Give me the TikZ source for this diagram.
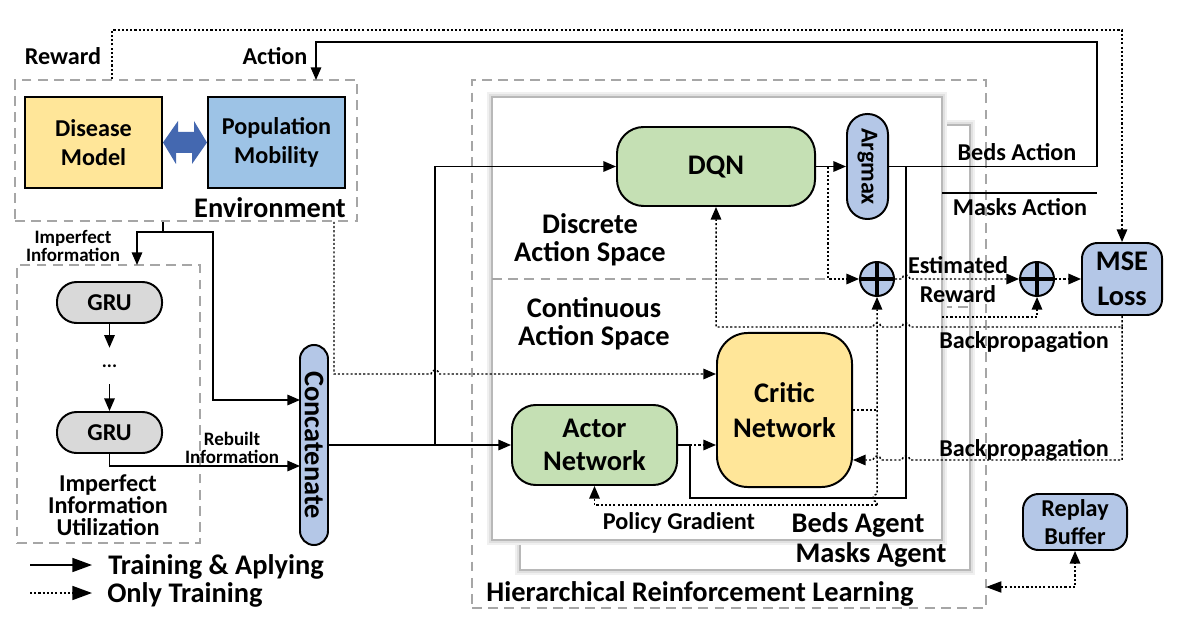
\documentclass[tikz,border=0pt]{standalone}
\usepackage{fontspec}
\setmainfont{Carlito}
\usepackage{tikz}
\usetikzlibrary{arrows.meta,fit}
\definecolor{envyel}{HTML}{FFE699}
\definecolor{envblu}{HTML}{9DC3E6}
\definecolor{netgrn}{HTML}{C5E0B4}
\definecolor{oplav}{HTML}{B4C7E7}
\definecolor{grugry}{HTML}{D9D9D9}
\definecolor{dblarr}{HTML}{4468B0}
\definecolor{frmgry}{HTML}{A6A6A6}
\newcommand{\hfont}[2]{\fontsize{#1}{#2}\selectfont\bfseries}
\tikzset{
  box/.style={draw, line width=1.4pt, align=center, inner sep=0pt, font={\hfont{17.2}{21}}},
  pill/.style={box, rounded corners=#1},
  grp/.style={draw=frmgry, line width=1.1pt, dash pattern=on 7pt off 4.5pt, inner sep=0pt},
  panel/.style={draw=black!28, line width=1.1pt, fill=white, inner sep=0pt,
    preaction={draw=black!6, line width=7pt}, preaction={draw=black!12, line width=4pt}},
  lbl/.style={align=center, inner sep=0pt, font={\hfont{17.2}{21}}},
  big/.style={font={\hfont{20.2}{#1}}}, big/.default=24,
  sml/.style={font={\hfont{13.5}{13}}},
  ln/.style={line width=1.05pt},
  fl/.style={ln, -{Triangle[length=9pt,width=7.5pt]}},
  dt/.style={dash pattern=on 1.5pt off 1.5pt},
  plus/.style={circle, draw, line width=1.4pt, fill=oplav, minimum size=0.85cm, inner sep=0pt,
    path picture={\draw[line width=2.2pt] (path picture bounding box.north) -- (path picture bounding box.south)
      (path picture bounding box.west) -- (path picture bounding box.east);}},
}

\begin{document}
\begin{tikzpicture}[x=0.025cm, y=-0.025cm]
  \useasboundingbox (0,0) rectangle (1187,629);
  % ---- frames ----
  \node[grp, fit={(472,80) (986,608)}] (hrl) {};
  \node[panel, fit={(520,125) (970,570)}] (mpan) {};
  \draw[grp] (942,307) -- (970,307);
  \node[panel, fit={(492,97) (942,540)}] (bpan) {};
  \draw[grp] (492,279) -- (828,279);
  \node[grp, fit={(15,80) (357,221)}] (env) {};
  \node[grp, fit={(17,265) (200,543)}] (iiu) {};

  % ---- environment ----
  \node[box, fill=envyel, minimum width=3.425cm, minimum height=2.275cm] (dis) at (93.5,142.5) {Disease\\Model};
  \node[box, fill=envblu, minimum width=3.425cm, minimum height=2.275cm] (pop) at (276.5,142.5) {Population\\Mobility};
  \fill[dblarr] (dis.east) -- ++(15,-21.5) -- ++(0,11) -- ++(16,0) -- ++(0,-11) -- (pop.west)
     -- ++(-15,21.5) -- ++(0,-11) -- ++(-16,0) -- ++(0,11) -- cycle;
  \node[lbl] (rwl) at (63,56) {Reward};
  \node[lbl] (acl) at (275,56) {Action};
  \node[lbl, big] (envl) at (270,208) {Environment};

  % ---- imperfect information utilization ----
  \node[lbl, sml] (iil) at (73,246) {Imperfect\\Information};
  \node[pill=14pt, fill=grugry, minimum width=2.625cm, minimum height=1.025cm] (g1) at (109.5,302.5) {GRU};
  \node[lbl, sml, minimum height=0.9cm] (dots) at (109.5,366) {...};
  \node[pill=14pt, fill=grugry, minimum width=2.625cm, minimum height=1.025cm] (g2) at (109.5,432.5) {GRU};
  \node[lbl, font={\hfont{17.2}{15.5}}] (iiul) at (108,505) {Imperfect\\Information\\Utilization};
  \node[lbl, sml] (rbl) at (232,448) {Rebuilt\\Information};
  \node[box, big, fill=oplav, rounded corners=10pt, rotate=-90, minimum width=5cm, minimum height=0.7cm] (cat) at (314,445) {Concatenate};
  \coordinate (ii) at (163,232);
  \coordinate (iin) at (137,265);
  \coordinate (ci1) at (300,400);
  \coordinate (ci2) at (300,466);
  \draw[ln] (env.south -| ii) -- (ii);
  \draw[fl] (ii) -| (iin);
  \draw[fl] (ii) -- (213,232) |- (ci1);
  \draw[fl] (g1) -- (dots);
  \draw[fl] (dots) -- (g2);
  \draw[fl] (g2.south) |- (ci2);

  % ---- beds agent ----
  \node[pill=19pt, big, fill=netgrn, minimum width=4.95cm, minimum height=1.975cm] (dqn) at (716,166.5) {DQN};
  \node[box, font={\hfont{17.2}{17}}, fill=oplav, rounded corners=14.5pt, rotate=-90, minimum width=2.625cm, minimum height=1.025cm] (arg) at (867.5,166.5) {Argmax};
  \node[lbl, big=20] (dasl) at (590,240) {Discrete\\Action Space};
  \node[lbl, big=20] (casl) at (594,324) {Continuous\\Action Space};
  \node[pill=17pt, big=24, fill=netgrn, minimum width=4.125cm, minimum height=2cm] (act) at (594.5,445) {Actor\\Network};
  \node[pill=22pt, big=25, fill=envyel, minimum width=3.375cm, minimum height=3.85cm] (crt) at (784.5,410) {Critic\\Network};
  \node[plus] (p1) at (877,279) {};
  \node[plus] (p2) at (1037,279) {};
  \node[pill=11pt, big=25, fill=oplav, minimum width=2cm, minimum height=1.8cm] (mse) at (1122,279) {MSE\\Loss};
  \node[pill=11pt, font={\hfont{17.2}{20}}, fill=oplav, minimum width=2.6cm, minimum height=1.4cm] (rep) at (1075,522) {Replay\\Buffer};

  \coordinate (ed) at (334,374);
  \draw[fl, dt] (env.south -| ed) -- (ed) -- (431,374) arc(180:360:4) -- (crt.west |- ed);
  \coordinate (sp) at (435,445);
  \draw[fl] (cat) -- (act);
  \draw[fl] (sp) |- (dqn);
  \draw[fl] (dqn) -- (arg);
  \coordinate (dq) at (828,166.5);
  \draw[fl, dt] (dq) |- (p1);
  \coordinate (ao) at (690,445);
  \coordinate (bj) at (906,166.5);
  \draw[ln] (act) -- (ao) |- (906,498) -- (bj);
  \draw[fl, dt] (ao) -- (crt.west |- ao);
  \draw[ln, dt] (crt.east) -- (crt.east -| p1);
  \coordinate (pg) at (877,505);
  \draw[fl, dt] (pg) -- (877,502) arc(90:270:4) -- (p1);
  \draw[fl, dt] (pg) -| (act.south);

  % ---- actions and rewards ----
  \coordinate (ac) at (1097,42);
  \coordinate (an) at (316,80);
  \draw[fl] (arg) -| (ac) -| (an);
  \coordinate (ma) at (942,193);
  \draw[ln] (ma) -- (ac |- ma);
  \node[lbl] (bal) at (1017,152) {Beds Action};
  \node[lbl] (mal) at (1020,207) {Masks Action};
  \node[lbl, font={\hfont{17.2}{20.6}}] (erl) at (958,280) {Estimated\\Reward};
  \draw[fl, dt] (p1) -- (902,279) arc(180:360:4) -- (p2);
  \draw[fl, dt] (p2) -- (mse);
  \coordinate (me) at (942,317);
  \draw[fl, dt] (me) -| (p2);
  \coordinate (rw) at (112,30);
  \draw[fl, dt] (env.north -| rw) -- (rw) -| (mse);
  \coordinate (bp1) at (1122,327);
  \coordinate (bp2) at (1122,460);
  \draw[fl, dt] (mse) -- (bp1) -- (910,327) arc(0:-180:4) -- (881,327) arc(0:-180:4) -- (dqn |- bp1) -- (dqn);
  \draw[fl, dt] (bp1) -- (bp2) -- (910,460) arc(0:-180:4) -- (881,460) arc(0:-180:4) -- (crt.east |- bp2);
  \node[lbl] (bpl1) at (1024,342) {Backpropagation};
  \node[lbl] (bpl2) at (1024,450) {Backpropagation};
  \node[lbl] (pgl) at (679,523) {Policy Gradient};
  \node[lbl, big] (bagl) at (858,525) {Beds Agent};
  \node[lbl, big] (magl) at (871,555) {Masks Agent};
  \node[lbl, big] (hrll) at (700,594) {Hierarchical Reinforcement Learning};
  \coordinate (rb) at (986,587);
  \draw[ln, dt, {Triangle[length=11pt,width=8pt]}-{Triangle[length=9pt,width=7.5pt]}] (rb) -| (rep);

  % ---- legend ----
  \node[lbl, big, anchor=west] (lg1) at (108,567) {Training \& Aplying};
  \node[lbl, big, anchor=west] (lg2) at (107,595) {Only Training};
  \coordinate (l1) at (30,565);
  \coordinate (l2) at (30,593);
  \draw[ln, -{Triangle[length=14pt,width=10pt]}] (l1) -- (92,565);
  \draw[ln, dt, -{Triangle[length=14pt,width=10pt]}] (l2) -- (92,593);
\end{tikzpicture}
\end{document}
